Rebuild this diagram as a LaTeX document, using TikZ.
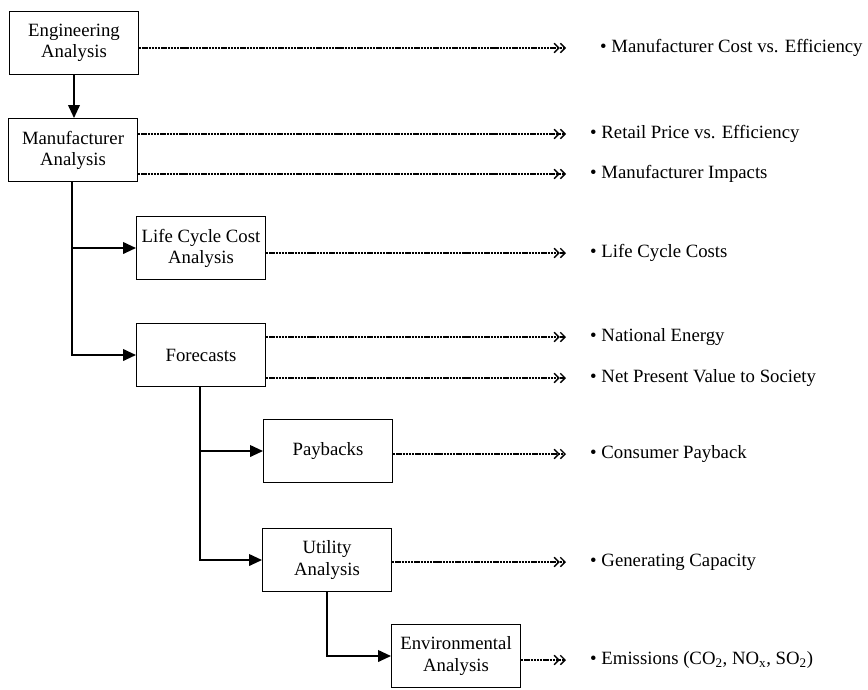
\documentclass[tikz,border=0pt]{standalone}
\usepackage{fontspec}
\setmainfont{Liberation Serif}
\usetikzlibrary{arrows.meta}

\tikzset{
  box/.style={draw,line width=1.2pt,minimum width=3.86cm,minimum height=1.88cm,
    inner sep=1pt,align=center,font=\fontsize{16}{18}\selectfont},
  result/.style={anchor=west,inner sep=0pt,font=\fontsize{16}{18}\selectfont},
  flow/.style={line width=1.2pt,-{Triangle[length=11pt,width=10pt]}},
  outarrow/.style={line width=0.9pt,dash pattern=on 2pt off 0.7pt,
    -{Straight Barb[length=4pt,width=8pt,line width=1.1pt]Straight Barb[length=4pt,width=8pt,line width=1.1pt]}}
}

\begin{document}
\begin{tikzpicture}[x=0.03cm,y=-0.03cm]
\useasboundingbox (0,0) rectangle (868,689);

% analysis boxes
\node[box] (eng) at (74,43) {Engineering\\Analysis};
\node[box] (manuf) at (73,150) {Manufacturer\\Analysis};
\node[box] (lcc) at (201,248) {Life Cycle Cost\\Analysis};
\node[box] (fore) at (201,355) {Forecasts};
\node[box] (pay) at (328,451) {Paybacks};
\node[box] (util) at (327,560) {Utility\\Analysis};
\node[box] (env) at (456,656) {Environmental\\Analysis};

% results
\node[result] (mce) at (600,48) {\textbullet\ Manufacturer Cost vs. Efficiency};
\node[result] (rpe) at (590,134) {\textbullet\ Retail Price vs. Efficiency};
\node[result] (mi) at (590,174) {\textbullet\ Manufacturer Impacts};
\node[result] (lcr) at (590,253) {\textbullet\ Life Cycle Costs};
\node[result] (ne) at (590,337) {\textbullet\ National Energy};
\node[result] (npv) at (590,378) {\textbullet\ Net Present Value to Society};
\node[result] (cp) at (590,454) {\textbullet\ Consumer Payback};
\node[result] (gc) at (590,562) {\textbullet\ Generating Capacity};
\node[result] (em) at (590,660) {\textbullet\ Emissions (CO\textsubscript{2}, NO\textsubscript{x}, SO\textsubscript{2})};

\coordinate (tip) at (566,0);

% flow between analyses
\draw[flow] (eng.south) -- (manuf.north -| eng.south);
\draw[flow] ([xshift=-1pt]manuf.south) |- (lcc.west);
\draw[flow] ([xshift=-1pt]manuf.south) |- (fore.west);
\draw[flow] ([xshift=-1pt]fore.south) |- (pay.west);
\draw[flow] ([xshift=-1pt]fore.south) |- (util.west);
\draw[flow] (util.south) |- (env.west);

% outputs
\draw[outarrow] (eng.east |- mce.west) -- (tip |- mce.west);
\draw[outarrow] (manuf.east |- rpe.west) -- (tip |- rpe.west);
\draw[outarrow] (manuf.east |- mi.west) -- (tip |- mi.west);
\draw[outarrow] (lcc.east |- lcr.west) -- (tip |- lcr.west);
\draw[outarrow] (fore.east |- ne.west) -- (tip |- ne.west);
\draw[outarrow] (fore.east |- npv.west) -- (tip |- npv.west);
\draw[outarrow] (pay.east |- cp.west) -- (tip |- cp.west);
\draw[outarrow] (util.east |- gc.west) -- (tip |- gc.west);
\draw[outarrow] (env.east |- em.west) -- (tip |- em.west);
\end{tikzpicture}
\end{document}
